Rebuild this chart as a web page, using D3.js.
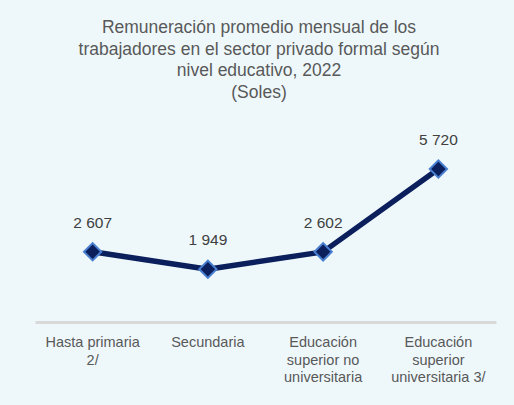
<!DOCTYPE html>
<html><head><meta charset="utf-8">
<script src="https://cdn.jsdelivr.net/npm/d3@7"></script>
<style>html,body{margin:0;padding:0;background:#eef8fb;}svg{display:block;}</style>
</head><body>
<script>
const categories = [["Hasta primaria","2/"],["Secundaria"],["Educación","superior no","universitaria"],["Educación","superior","universitaria 3/"]];
const values = [2607, 1949, 2602, 5720];
const valueLabels = ["2 607", "1 949", "2 602", "5 720"];
const titleLines = ["Remuneración promedio mensual de los","trabajadores en el sector privado formal según","nivel educativo, 2022","(Soles)"];

const W = 514, H = 405;
const font = "'Liberation Sans', Arial, sans-serif";
const svg = d3.select("body").append("svg").attr("width", W).attr("height", H);
svg.append("rect").attr("width", W).attr("height", H).attr("fill", "#eef8fb");

const x = d3.scaleBand().domain(d3.range(categories.length)).range([35, 496]);
const y = d3.scaleLinear().domain([0, 7000]).range([321, 135]);

svg.append("text").attr("x", 259).attr("y", 33).attr("text-anchor", "middle")
  .attr("font-family", font).attr("font-size", 17.5).attr("fill", "#595959")
  .selectAll("tspan").data(titleLines).join("tspan")
  .attr("x", 259).attr("dy", (d,i) => i ? 21.5 : 0).text(d => d);

// axis
const ax = svg.append("g").attr("transform", "translate(0,322)")
  .call(d3.axisBottom(x).tickSize(0).tickFormat(""));
ax.select(".domain").attr("stroke", "#d9d9d9").attr("stroke-width", 3);

svg.append("g").selectAll("text").data(categories).join("text")
  .attr("text-anchor", "middle").attr("font-family", font).attr("font-size", 14.5).attr("fill", "#595959")
  .attr("y", 347)
  .each(function(d, i) {
    d3.select(this).selectAll("tspan").data(d).join("tspan")
      .attr("x", x(i) + x.bandwidth()/2).attr("dy", (t, j) => j ? 17.5 : 0).text(t => t);
  });

const cx = i => x(i) + x.bandwidth()/2;
const line = d3.line().x((d,i) => cx(i)).y(d => y(d));
svg.append("path").datum(values).attr("d", line).attr("fill", "none")
  .attr("stroke", "#0a1f5c").attr("stroke-width", 5.5).attr("stroke-linejoin", "round");

svg.append("g").selectAll("path").data(values).join("path")
  .attr("d", d3.symbol(d3.symbolSquare, 150)())
  .attr("transform", (d,i) => `translate(${cx(i)},${y(d)}) rotate(45)`)
  .attr("fill", "#0a1f5c").attr("stroke", "#4a7fd0").attr("stroke-width", 2);

svg.append("g").selectAll("text").data(values).join("text")
  .attr("x", (d,i) => cx(i)).attr("y", d => y(d) - 24)
  .attr("text-anchor", "middle").attr("font-family", font).attr("font-size", 15.5).attr("fill", "#404040")
  .text((d,i) => valueLabels[i]);
</script>
</body></html>
